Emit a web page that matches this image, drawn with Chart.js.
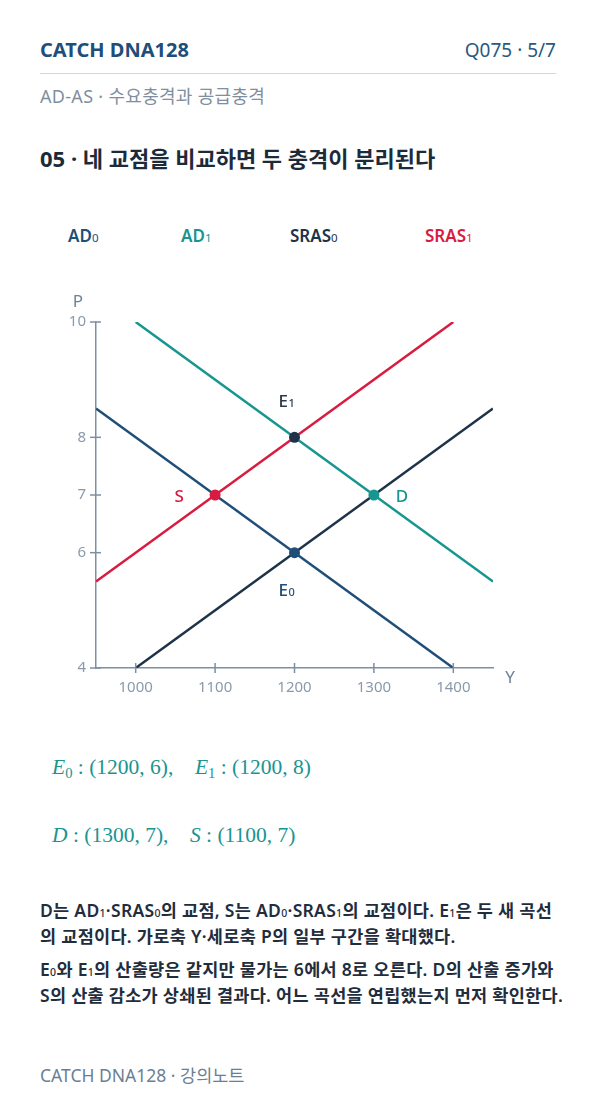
<!DOCTYPE html>
<html>
<head>
<meta charset="utf-8">
<script src="https://cdn.jsdelivr.net/npm/chart.js@4.4.1/dist/chart.umd.min.js"></script>
<style>
  html, body { margin:0; padding:0; background:#ffffff; }
  body { width:596px; height:1106px; position:relative; overflow:hidden;
         font-family:"Noto Sans","Noto Sans CJK KR",sans-serif; }
  .abs { position:absolute; white-space:nowrap; }
  .sb { font-size:0.62em; }
  #brand { left:40px; top:38px; font-size:20px; line-height:24px; font-weight:700; color:#1f4e79; }
  #page { right:40px; top:38px; font-size:19px; line-height:24px; color:#2a5a82; }
  #rule { left:40px; top:73px; width:516px; height:1px; background:#c9d9e7; }
  #sub { left:40px; top:85px; font-size:18px; letter-spacing:0.3px; line-height:22px; color:#7f8fa0; }
  #title { left:40px; top:144px; font-size:22px; line-height:28px; font-weight:700; color:#1c2b3a; }
  .lg { top:225px; font-size:17px; line-height:22px; font-weight:600; }
  .lg .sb { font-weight:400; font-size:0.68em; }
  #chartBox { left:0; top:280px; width:596px; height:430px; }
  .fx { left:52px; font-family:"Liberation Serif","DejaVu Serif",serif; font-size:21.5px; color:#1a9490; }
  .fx i { font-style:italic; }
  .fx .s { font-size:0.68em; position:relative; top:0.3em; }
  .para { left:40px; font-size:17.5px; letter-spacing:0.3px; font-weight:600; color:#1f2d3d; line-height:23px;
          font-family:"Noto Sans","Noto Sans CJK KR",sans-serif; }
  .para .sb { font-size:0.6em; font-weight:500; }
  #foot { left:40px; top:1064px; font-size:17.5px; line-height:22px; color:#6b7f94; }
</style>
</head>
<body>
<div class="abs" id="brand">CATCH DNA128</div>
<div class="abs" id="page">Q075 · 5/7</div>
<div class="abs" id="rule"></div>
<div class="abs" id="sub">AD-AS · 수요충격과 공급충격</div>
<div class="abs" id="title">05 · 네 교점을 비교하면 두 충격이 분리된다</div>

<div class="abs lg" style="left:68px;color:#1f4e79">AD<span class="sb">0</span></div>
<div class="abs lg" style="left:181px;color:#16968f">AD<span class="sb">1</span></div>
<div class="abs lg" style="left:290px;color:#1e3248">SRAS<span class="sb">0</span></div>
<div class="abs lg" style="left:425px;color:#d81b3f">SRAS<span class="sb">1</span></div>

<div class="abs" id="chartBox"><canvas id="c" width="596" height="430"></canvas></div>

<div class="abs fx" style="top:755px"><i>E</i><span class="s">0</span> : (1200, 6),&nbsp;&nbsp;&nbsp;&nbsp;<i>E</i><span class="s">1</span> : (1200, 8)</div>
<div class="abs fx" style="top:823px"><i>D</i> : (1300, 7),&nbsp;&nbsp;&nbsp;&nbsp;<i>S</i> : (1100, 7)</div>

<div class="abs para" style="top:899px">D는 AD<span class="sb">1</span>·SRAS<span class="sb">0</span>의 교점, S는 AD<span class="sb">0</span>·SRAS<span class="sb">1</span>의 교점이다. E<span class="sb">1</span>은 두 새 곡선<br>의 교점이다. 가로축 Y·세로축 P의 일부 구간을 확대했다.</div>
<div class="abs para" style="top:958px">E<span class="sb">0</span>와 E<span class="sb">1</span>의 산출량은 같지만 물가는 6에서 8로 오른다. D의 산출 증가와<br>S의 산출 감소가 상쇄된 결과다. 어느 곡선을 연립했는지 먼저 확인한다.</div>

<div class="abs" id="foot">CATCH DNA128 · 강의노트</div>

<script>
// ---- data ----
const xTicks = [1000, 1100, 1200, 1300, 1400];
const yTicks = [4, 6, 7, 8, 10];
const curveNames = ['AD0', 'AD1', 'SRAS0', 'SRAS1'];
const ad0X = [950, 1400];   const ad0Y = [8.5, 4];
const ad1X = [1000, 1450];  const ad1Y = [10, 5.5];
const sras0X = [1000, 1450]; const sras0Y = [4, 8.5];
const sras1X = [950, 1400]; const sras1Y = [5.5, 10];
const pointNames = ['E0', 'E1', 'D', 'S'];
const pointX = [1200, 1200, 1300, 1100];
const pointY = [6, 8, 7, 7];

// ---- styles ----
const curveColors = ['#1f4e79', '#16968f', '#1e3248', '#d81b3f'];
const pointColors = ['#1f4e79', '#1e3248', '#16968f', '#d81b3f'];
const labelColors = ['#1f4e79', '#2a3a4c', '#16968f', '#d81b3f'];
const labelOffsets = [[-8, 37], [-8, -36], [28, 1], [-36, 1]];
const axisColor = '#7d8fa3';
const tickColor = '#8a9aac';

const toPts = (xs, ys) => xs.map((x, i) => ({ x, y: ys[i] }));
const curves = [toPts(ad0X, ad0Y), toPts(ad1X, ad1Y), toPts(sras0X, sras0Y), toPts(sras1X, sras1Y)];

const datasets = curves.map((d, i) => ({
  type: 'line', label: curveNames[i], data: d,
  borderColor: curveColors[i], borderWidth: 2.5, pointRadius: 0, fill: false, order: 2
}));
datasets.push({
  type: 'scatter', label: 'points',
  data: toPts(pointX, pointY),
  pointRadius: 5.5, pointHoverRadius: 5.5,
  pointBackgroundColor: pointColors, pointBorderColor: pointColors, pointBorderWidth: 0, order: 1
});

const decor = {
  id: 'decor',
  afterDraw(chart) {
    const ctx = chart.ctx, xs = chart.scales.x, ys = chart.scales.y, a = chart.chartArea;
    ctx.save();
    ctx.strokeStyle = axisColor; ctx.lineWidth = 1.5;
    xs.ticks.forEach(t => {
      const px = xs.getPixelForValue(t.value);
      ctx.beginPath(); ctx.moveTo(px, a.bottom - 5); ctx.lineTo(px, a.bottom + 5); ctx.stroke();
    });
    ys.ticks.forEach(t => {
      const py = ys.getPixelForValue(t.value);
      ctx.beginPath(); ctx.moveTo(a.left - 6, py); ctx.lineTo(a.left + 5, py); ctx.stroke();
    });
    // axis titles
    ctx.fillStyle = '#6f8296';
    ctx.font = '17px "Noto Sans"';
    ctx.textAlign = 'center'; ctx.textBaseline = 'middle';
    ctx.fillText('P', a.left - 18, a.top - 20);
    ctx.fillText('Y', a.right + 17, a.bottom + 10);
    // point labels
    pointNames.forEach((n, i) => {
      const px = xs.getPixelForValue(pointX[i]) + labelOffsets[i][0];
      const py = ys.getPixelForValue(pointY[i]) + labelOffsets[i][1];
      const main = n[0], sub = n.slice(1);
      ctx.fillStyle = labelColors[i];
      ctx.font = '500 17px "Noto Sans"';
      const w1 = ctx.measureText(main).width;
      ctx.font = '500 11px "Noto Sans"';
      const w2 = sub ? ctx.measureText(sub).width : 0;
      const x0 = px - (w1 + w2) / 2;
      ctx.textAlign = 'left'; ctx.textBaseline = 'alphabetic';
      ctx.font = '500 17px "Noto Sans"';
      ctx.fillText(main, x0, py + 6);
      if (sub) { ctx.font = '500 11px "Noto Sans"'; ctx.fillText(sub, x0 + w1 + 0.5, py + 6); }
    });
    ctx.restore();
  }
};

new Chart(document.getElementById('c'), {
  data: { datasets },
  options: {
    responsive: false, animation: false, devicePixelRatio: 1,
    layout: { padding: { left: 56, right: 103, top: 42, bottom: 2 } },
    plugins: { legend: { display: false }, tooltip: { enabled: false } },
    scales: {
      x: {
        type: 'linear', min: 950, max: 1450,
        afterBuildTicks: s => { s.ticks = xTicks.map(v => ({ value: v })); },
        afterFit: s => { s.height = 40; },
        grid: { display: false, drawTicks: false },
        border: { display: true, color: axisColor, width: 1.5 },
        ticks: { color: tickColor, font: { size: 15, family: 'Noto Sans' }, padding: 11, autoSkip: false, maxRotation: 0,
                 callback: v => String(v) }
      },
      y: {
        type: 'linear', min: 4, max: 10,
        afterBuildTicks: s => { s.ticks = yTicks.map(v => ({ value: v })); },
        afterFit: s => { s.width = 40; },
        grid: { display: false, drawTicks: false },
        border: { display: true, color: axisColor, width: 1.5 },
        ticks: { color: tickColor, font: { size: 15, family: 'Noto Sans' }, padding: 10, autoSkip: false,
                 callback: v => String(v) }
      }
    }
  },
  plugins: [decor]
});
</script>
</body>
</html>
